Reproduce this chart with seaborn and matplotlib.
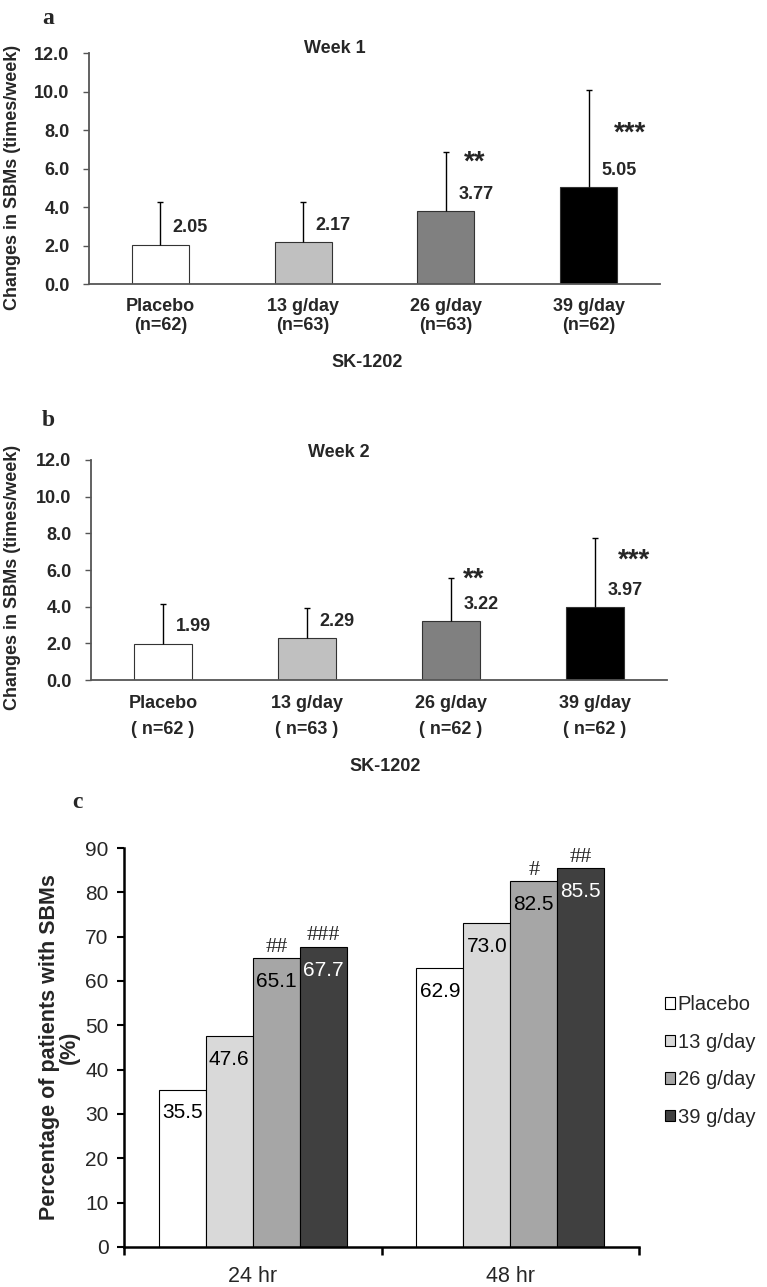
import pandas as pd
import seaborn as sns
import matplotlib
matplotlib.use("Agg")
import matplotlib.pyplot as plt
from matplotlib.ticker import FormatStrFormatter, MultipleLocator
from matplotlib.patches import Patch

# ---- data ----
groups = ['Placebo', '13 g/day', '26 g/day', '39 g/day']
n_week1 = [62, 63, 63, 62]
n_week2 = [62, 63, 62, 62]
week1_mean = [2.05, 2.17, 3.77, 5.05]
week1_sd = [2.20, 2.08, 3.07, 5.04]
week2_mean = [1.99, 2.29, 3.22, 3.97]
week2_sd = [2.14, 1.62, 2.36, 3.79]
week_sig = ['', '', '**', '***']

timepoints = ['24 hr', '48 hr']
pct_24hr = [35.5, 47.6, 65.1, 67.7]
pct_48hr = [62.9, 73.0, 82.5, 85.5]
hash_24hr = ['', '', '##', '###']
hash_48hr = ['', '', '#', '##']

# ---- styles ----
colors_ab = ['#ffffff', '#c0c0c0', '#808080', '#000000']
colors_c = ['#ffffff', '#d9d9d9', '#a6a6a6', '#404040']
label_colors_c = ['black', 'black', 'black', 'white']
# star text placement (x offset from bar centre, y in data units)
star_pos_w1 = [None, None, (0.2, 6.3), (0.29, 7.8)]
star_pos_w2 = [None, None, (0.16, 5.5), (0.27, 6.5)]

sns.set_theme(style='white')
plt.rcParams['font.family'] = ['Liberation Sans', 'DejaVu Sans']

fig = plt.figure(figsize=(7.67, 12.87), dpi=100)


def week_panel(ax, means, sds, ns, title, title_y, star_pos, lspace, n_fmt, pad):
    df = pd.DataFrame({'group': groups, 'mean': means})
    sns.barplot(data=df, x='group', y='mean', hue='group', palette=colors_ab,
                width=0.4, edgecolor='#333333', linewidth=0.8, errorbar=None,
                legend=False, ax=ax)
    xs = list(range(len(groups)))
    eb = ax.errorbar(xs, means, yerr=[[0] * len(sds), sds], fmt='none',
                     ecolor='black', elinewidth=1.0, capsize=2.5, capthick=1.0)
    eb[1][0].set_visible(False)  # plus direction only
    for x, m in zip(xs, means):
        ax.annotate(f'{m:.2f}', (x + 0.2, m), xytext=(1, 12),
                    textcoords='offset points', ha='center', va='center',
                    fontsize=13, fontweight='bold')
    for x, (sig, pos) in enumerate(zip(week_sig, star_pos)):
        if sig and pos:
            ax.text(x + pos[0], pos[1], sig, ha='center', va='center',
                    fontsize=20, fontweight='bold')
    ax.set_xlim(-0.5, 3.5)
    ax.set_ylim(0, 12)
    ax.yaxis.set_major_locator(MultipleLocator(2))
    ax.yaxis.set_major_formatter(FormatStrFormatter('%.1f'))
    ax.set_xticks(xs)
    ax.set_xticklabels([f'{g}\n{n_fmt.format(n)}' for g, n in zip(groups, ns)],
                       fontsize=13, fontweight='bold', linespacing=lspace)
    for t in ax.get_yticklabels():
        t.set_fontsize(13)
        t.set_fontweight('bold')
    ax.tick_params(axis='x', length=0, pad=pad)
    ax.tick_params(axis='y', length=4, width=1, color='#555555', pad=10,
                   left=True, direction='out')
    for s in ['top', 'right']:
        ax.spines[s].set_visible(False)
    for s in ['left', 'bottom']:
        ax.spines[s].set_color('#555555')
        ax.spines[s].set_linewidth(1.3)
    ax.set_xlabel('')
    ax.set_ylabel('')
    ax.text(0.43, title_y, title, transform=ax.transAxes, ha='center',
            va='center', fontsize=13, fontweight='bold')


ax_a = fig.add_axes([0.116, 0.7793, 0.7445, 0.1795])
week_panel(ax_a, week1_mean, week1_sd, n_week1, 'Week 1', 1.02, star_pos_w1,
           1.15, '(n={})', 10)
ax_a.text(0.487, -0.34, 'SK-1202', transform=ax_a.transAxes, ha='center',
          va='center', fontsize=13, fontweight='bold')

ax_b = fig.add_axes([0.1186, 0.4716, 0.751, 0.171])
week_panel(ax_b, week2_mean, week2_sd, n_week2, 'Week 2', 1.036, star_pos_w2,
           1.7, '( n={} )', 11)
ax_b.text(0.51, -0.395, 'SK-1202', transform=ax_b.transAxes, ha='center',
          va='center', fontsize=13, fontweight='bold')

for yc in [177, 577]:
    fig.text(13 / 767, 1 - yc / 1287, 'Changes in SBMs (times/week)',
             rotation=90, ha='center', va='center', fontsize=13,
             fontweight='bold')

# ---- panel c ----
ax_c = fig.add_axes([0.1617, 0.0311, 0.6714, 0.310])
df_c = pd.DataFrame({
    'time': [t for t in timepoints for _ in groups],
    'dose': groups * len(timepoints),
    'pct': pct_24hr + pct_48hr,
})
sns.barplot(data=df_c, x='time', y='pct', hue='dose', palette=colors_c,
            width=0.73, edgecolor='black', linewidth=0.8, errorbar=None,
            ax=ax_c)
hashes = [hash_24hr, hash_48hr]
for k, cont in enumerate(ax_c.containers):
    for j, bar in enumerate(cont):
        xc = bar.get_x() + bar.get_width() / 2
        h = bar.get_height()
        ax_c.annotate(f'{h:.1f}', (xc, h), xytext=(0, -10),
                      textcoords='offset points', ha='center', va='top',
                      fontsize=15, color=label_colors_c[k])
        if hashes[j][k]:
            ax_c.annotate(hashes[j][k], (xc, h), xytext=(0, 1),
                          textcoords='offset points', ha='center',
                          va='bottom', fontsize=16,
                          family=['Liberation Serif', 'DejaVu Serif'])
ax_c.set_xlim(-0.5, 1.5)
ax_c.set_ylim(0, 90)
ax_c.yaxis.set_major_locator(MultipleLocator(10))
ax_c.set_xticks([0, 1])
ax_c.set_xticklabels(timepoints, fontsize=15.5)
ax_c.set_xticks([-0.5, 0.5, 1.5], minor=True)
ax_c.tick_params(axis='x', which='major', length=0, pad=14)
ax_c.tick_params(axis='x', which='minor', length=6, width=1.8, color='black',
                 bottom=True, direction='out')
ax_c.tick_params(axis='y', length=5, width=1.5, color='black', left=True,
                 direction='out', labelsize=15, pad=6)
for s in ['top', 'right']:
    ax_c.spines[s].set_visible(False)
for s in ['left', 'bottom']:
    ax_c.spines[s].set_color('black')
    ax_c.spines[s].set_linewidth(1.8)
ax_c.set_xlabel('')
ax_c.set_ylabel('Percentage of patients with SBMs\n(%)', fontsize=15.5,
                fontweight='bold', linespacing=0.95, labelpad=4)
handles = [Patch(facecolor=c, edgecolor='black', linewidth=0.8) for c in colors_c]
ax_c.legend(handles, groups, loc='center left', bbox_to_anchor=(1.035, 0.466),
            frameon=False, fontsize=14.5, handlelength=0.5, handleheight=0.5,
            handletextpad=0.12, labelspacing=0.92, borderaxespad=0)

# panel letters
serif = ['Liberation Serif', 'DejaVu Serif']
fig.text(48 / 767, 1 - 18 / 1287, 'a', fontsize=17, fontweight='bold',
         family=serif, ha='center', va='center')
fig.text(48 / 767, 1 - 420 / 1287, 'b', fontsize=17, fontweight='bold',
         family=serif, ha='center', va='center')
fig.text(77 / 767, 1 - 802 / 1287, 'c', fontsize=17, fontweight='bold',
         family=serif, ha='center', va='center')

fig.savefig('out.png', dpi=100)
